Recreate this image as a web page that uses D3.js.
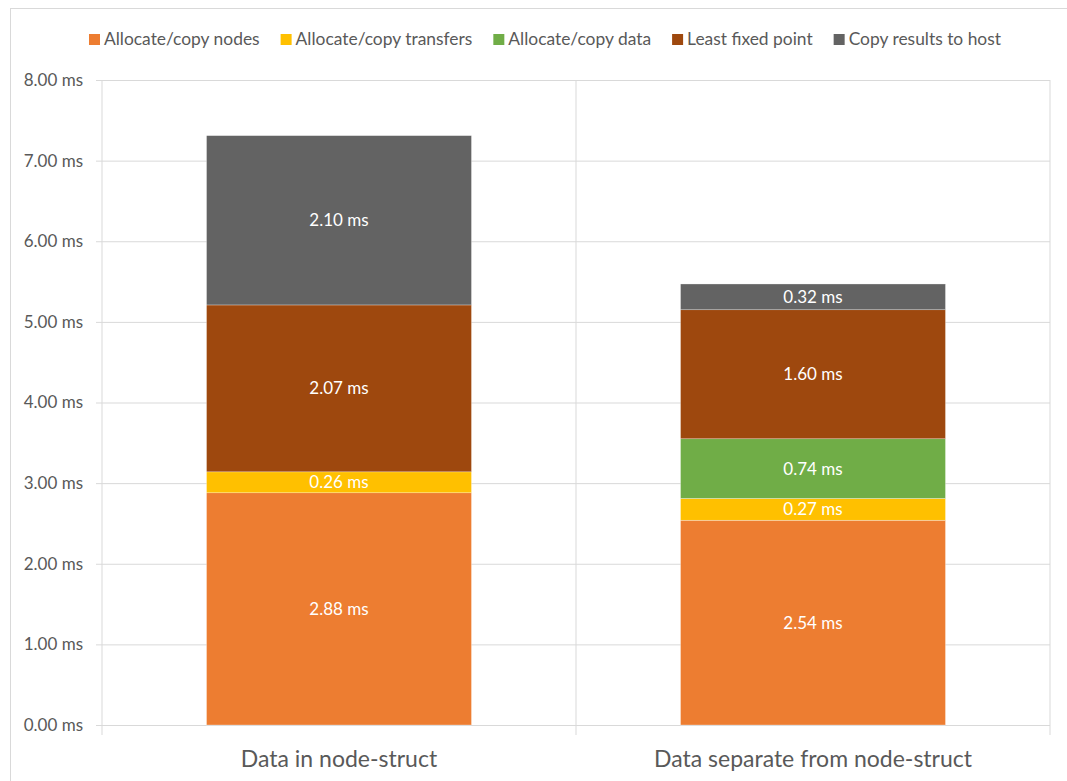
<!DOCTYPE html>
<html><head><meta charset="utf-8">
<script src="https://cdn.jsdelivr.net/npm/d3@7"></script>
<style>body{margin:0;background:#fff;} text{font-family:Lato,"Open Sans",sans-serif;}</style>
</head><body><svg id="c" width="1067" height="781"></svg>
<script>
const categories = ["Data in node-struct", "Data separate from node-struct"];
const seriesNames = ["Allocate/copy nodes", "Allocate/copy transfers", "Allocate/copy data", "Least fixed point", "Copy results to host"];
const seriesColors = ["#ED7D31", "#FFC000", "#70AD47", "#9E480E", "#636363"];
const allocNodes = [2.88, 2.54];
const allocTransfers = [0.26, 0.27];
const allocData = [0, 0.74];
const leastFixed = [2.07, 1.60];
const copyResults = [2.10, 0.32];
const yTicks = [0, 1, 2, 3, 4, 5, 6, 7, 8];

const series = [allocNodes, allocTransfers, allocData, leastFixed, copyResults];
const svg = d3.select("#c");
const L = 102, R = 1050, T = 80, B = 725;

// border
svg.append("rect").attr("x", 10.5).attr("y", 8.5).attr("width", 1070).attr("height", 800)
  .attr("fill", "none").attr("stroke", "#d9d9d9").attr("stroke-width", 1);

const x = d3.scaleBand().domain(categories).range([L, R]).paddingInner(0.441).paddingOuter(0.2205);
const y = d3.scaleLinear().domain([0, 8]).range([B, T]);
const step = x.step();

const yAxis = d3.axisLeft(y).tickValues(yTicks).tickSize(6).tickFormat(d => d3.format(".2f")(d) + " ms");
const gy = svg.append("g").attr("transform", `translate(${L},0)`).call(yAxis);
gy.select(".domain").remove();
gy.selectAll(".tick line").attr("stroke", "#d9d9d9").attr("x2", R - L).attr("x1", -6);
gy.selectAll(".tick text").attr("x", -19).attr("fill", "#595959").style("font-size", "17px").style("font-family", "Lato,sans-serif");

const seps = d3.range(categories.length + 1).map(i => L + i * step);
svg.append("g").selectAll("line").data(seps).join("line")
  .attr("x1", d => d).attr("x2", d => d).attr("y1", T).attr("y2", B + 10)
  .attr("stroke", "#d9d9d9").attr("stroke-width", 1);

const rows = categories.map((c, i) => { const o = {cat: c}; seriesNames.forEach((s, j) => o[s] = series[j][i]); return o; });
const stack = d3.stack().keys(seriesNames)(rows);
const g = svg.append("g");
stack.forEach((layer, j) => {
  layer.forEach((d, i) => {
    if (d[1] - d[0] <= 0) return;
    g.append("rect").attr("x", x(categories[i])).attr("width", x.bandwidth())
      .attr("y", y(d[1])).attr("height", y(d[0]) - y(d[1]))
      .attr("fill", seriesColors[j]).attr("stroke", "#fff").attr("stroke-width", 0.5).attr("stroke-opacity", 0.6);
    g.append("text").attr("x", x(categories[i]) + x.bandwidth() / 2).attr("y", (y(d[0]) + y(d[1])) / 2)
      .attr("dy", "0.35em").attr("text-anchor", "middle").attr("fill", "#fff").style("font-size", "17px")
      .text(d3.format(".2f")(d[1] - d[0]) + " ms");
  });
});

svg.append("g").selectAll("text").data(categories).join("text")
  .attr("x", d => x(d) + x.bandwidth() / 2).attr("y", 767).attr("text-anchor", "middle")
  .attr("fill", "#595959").style("font-size", "23px").text(d => d);

const lg = svg.append("g");
const items = seriesNames.map((s, j) => {
  const it = lg.append("g");
  it.append("rect").attr("width", 11).attr("height", 11).attr("y", -11).attr("fill", seriesColors[j]);
  const t = it.append("text").attr("x", 15).attr("y", 0).attr("fill", "#595959").style("font-size", "17.4px").text(s);
  return {it, w: 15 + t.node().getComputedTextLength()};
});
const gap = 21;
const total = d3.sum(items, d => d.w) + gap * (items.length - 1);
let cx = 545 - total / 2;
items.forEach(d => { d.it.attr("transform", `translate(${cx},45)`); cx += d.w + gap; });
</script></body></html>
